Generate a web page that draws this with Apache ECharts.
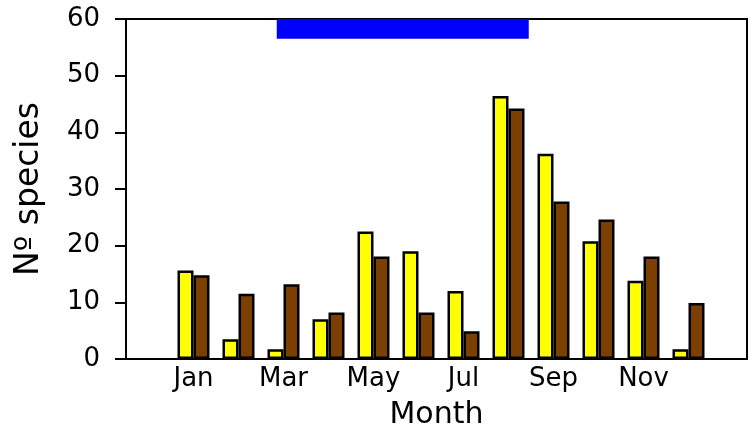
<!DOCTYPE html>
<html>
<head>
<meta charset="utf-8">
<script src="https://cdn.jsdelivr.net/npm/echarts@6/dist/echarts.min.js"></script>
<style>
  html, body { margin: 0; padding: 0; background: #fff; }
  #chart { width: 756px; height: 436px; }
</style>
</head>
<body>
<div id="chart"></div>
<script>
// month names (axis shows every other one)
var months = ['Jan', 'Feb', 'Mar', 'Apr', 'May', 'Jun', 'Jul', 'Aug', 'Sep', 'Oct', 'Nov', 'Dec']
var labelMonths = [1, 3, 5, 7, 9, 11]
// species counts
var yellowValues = [15.6, 3.5, 1.7, 7.0, 22.5, 19.0, 12.0, 46.4, 36.2, 20.8, 13.8, 1.7]
var brownValues = [14.8, 11.5, 13.2, 8.2, 18.1, 8.2, 4.9, 44.2, 27.8, 24.6, 18.1, 9.9]
// blue band at the top (month position from / to)
var seasonSpan = [2.85, 8.45]
var yTicks = [0, 10, 20, 30, 40, 50, 60]

var font = 'DejaVu Sans'

function pairs (vals) {
  return vals.map(function (v, i) { return [i + 1, v] })
}

var chart = echarts.init(document.getElementById('chart'))
var options = {
  animation: false,
  backgroundColor: '#fff',
  grid: {
    left: 126,
    right: 9,
    top: 19,
    bottom: 77,
    show: true,
    borderColor: '#000',
    borderWidth: 2
  },
  xAxis: {
    type: 'value',
    min: -0.5,
    max: 13.3,
    name: 'Month',
    nameLocation: 'middle',
    nameGap: 41,
    nameTextStyle: { fontFamily: font, fontSize: 30, color: '#000' },
    axisLine: { show: true, onZero: false, lineStyle: { color: '#000', width: 2 } },
    axisTick: { show: false },
    splitLine: { show: false },
    axisLabel: {
      customValues: labelMonths,
      margin: 7,
      fontFamily: font,
      fontSize: 26,
      color: '#000',
      formatter: function (v) { return months[v - 1] || '' }
    }
  },
  yAxis: {
    type: 'value',
    min: yTicks[0],
    max: yTicks[yTicks.length - 1],
    interval: 10,
    name: 'Nº species',
    nameLocation: 'middle',
    nameGap: 80,
    nameTextStyle: { fontFamily: font, fontSize: 33, color: '#000' },
    axisLine: { show: true, onZero: false, lineStyle: { color: '#000', width: 2 } },
    axisTick: { show: true, inside: false, length: 11, lineStyle: { color: '#000', width: 2 } },
    splitLine: { show: false },
    axisLabel: { margin: 26, fontFamily: font, fontSize: 26, color: '#000' }
  },
  series: [
    {
      name: 'yellow',
      type: 'bar',
      data: pairs(yellowValues),
      barWidth: 16,
      barGap: '0%',
      itemStyle: { color: '#ffff00', borderColor: '#000', borderWidth: 2.5 },
      markArea: {
        silent: true,
        itemStyle: { color: '#0000ff', opacity: 1 },
        data: [[{ coord: [seasonSpan[0], 56.5] }, { coord: [seasonSpan[1], 60] }]]
      }
    },
    {
      name: 'brown',
      type: 'bar',
      data: pairs(brownValues),
      barWidth: 16,
      barGap: '0%',
      itemStyle: { color: '#7b4000', borderColor: '#000', borderWidth: 2.5 }
    }
  ]
}
chart.setOption(options)
</script>
</body>
</html>
